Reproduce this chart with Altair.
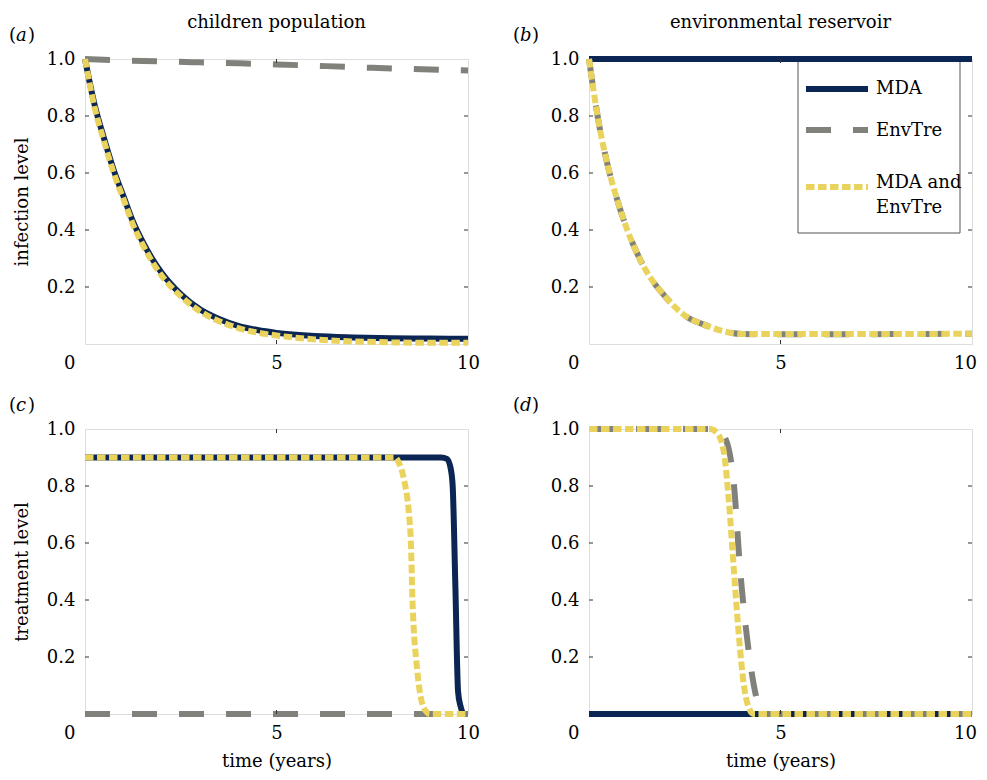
import altair as alt
import pandas as pd

FONT = "DejaVu Serif"
FS = 18
NAVY = "#0b2655"
GREY = "#81817c"
YELLOW = "#e9d35c"
W, H = 383, 285

series_names = ["MDA", "EnvTre", "MDA and EnvTre"]
panel_tags = ["a", "b", "c", "d"]
col_titles = ["children population", "environmental reservoir"]
row_titles = ["infection level", "treatment level"]
x_title = "time (years)"
x_tick_values = [0, 5, 10]
y_tick_values = [0.2, 0.4, 0.6, 0.8, 1.0]

# (a) children population, infection level
a_mda_t = [0, 0.25, 0.5, 0.75, 1.0, 1.25, 1.5, 1.75, 2.0, 2.5, 3.0, 3.5, 4.0, 4.5, 5.0, 6.0, 7.0, 8.0, 9.0, 10.0]
a_mda_v = [1.0, 0.84, 0.72, 0.61, 0.52, 0.43, 0.36, 0.30, 0.25, 0.175, 0.122, 0.088, 0.064, 0.049, 0.039, 0.028, 0.023, 0.020, 0.019, 0.018]
a_env_t = [0, 1.5, 2.8, 4.0, 5.0, 6.3, 7.5, 8.8, 10.0]
a_env_v = [1.0, 0.993, 0.989, 0.985, 0.981, 0.975, 0.969, 0.964, 0.960]
a_both_t = [0, 0.25, 0.5, 0.75, 1.0, 1.25, 1.5, 1.75, 2.0, 2.5, 3.0, 3.5, 4.0, 4.5, 5.0, 6.0, 7.0, 8.0, 9.0, 10.0]
a_both_v = [1.0, 0.83, 0.71, 0.60, 0.51, 0.42, 0.35, 0.29, 0.24, 0.168, 0.115, 0.080, 0.056, 0.040, 0.030, 0.016, 0.009, 0.006, 0.004, 0.004]

# (b) environmental reservoir, infection level
b_mda_t = [0, 10.0]
b_mda_v = [1.0, 1.0]
b_env_t = [0, 0.25, 0.5, 0.75, 1.0, 1.25, 1.5, 2.0, 2.5, 3.0, 3.5, 4.0, 5.0, 6.0, 8.0, 10.0]
b_env_v = [1.0, 0.78, 0.62, 0.50, 0.40, 0.32, 0.255, 0.165, 0.10, 0.068, 0.045, 0.035, 0.034, 0.034, 0.035, 0.036]
b_both_t = [0, 0.25, 0.5, 0.75, 1.0, 1.25, 1.5, 2.0, 2.5, 3.0, 3.5, 4.0, 5.0, 6.0, 8.0, 10.0]
b_both_v = [1.0, 0.78, 0.62, 0.50, 0.40, 0.32, 0.255, 0.165, 0.10, 0.068, 0.045, 0.035, 0.035, 0.035, 0.035, 0.036]

# (c) children population, treatment level
c_mda_t = [0, 5.0, 9.3, 9.45, 9.55, 9.6, 9.67, 9.74, 9.8, 9.9, 10.0]
c_mda_v = [0.9, 0.9, 0.9, 0.895, 0.86, 0.80, 0.45, 0.08, 0.03, 0.0, 0.0]
c_env_t = [0, 10.0]
c_env_v = [0.0, 0.0]
c_both_t = [0, 4.0, 8.1, 8.2, 8.3, 8.5, 8.55, 8.67, 8.78, 8.9, 9.0, 10.0]
c_both_v = [0.9, 0.9, 0.9, 0.88, 0.84, 0.63, 0.40, 0.16, 0.05, 0.01, 0.0, 0.0]

# (d) environmental reservoir, treatment level
d_mda_t = [0, 10.0]
d_mda_v = [0.0, 0.0]
d_env_t = [0, 2.0, 3.34, 3.55, 3.78, 3.95, 4.18, 4.35, 4.5, 4.6, 7.0, 10.0]
d_env_v = [1.0, 1.0, 1.0, 0.97, 0.81, 0.50, 0.21, 0.07, 0.01, 0.0, 0.0, 0.0]
d_both_t = [0, 2.0, 3.16, 3.35, 3.52, 3.65, 3.78, 3.91, 4.04, 4.15, 4.3, 7.0, 10.0]
d_both_v = [1.0, 1.0, 1.0, 0.985, 0.92, 0.75, 0.51, 0.28, 0.105, 0.03, 0.0, 0.0, 0.0]

raw = {
    "a": [(a_mda_t, a_mda_v), (a_env_t, a_env_v), (a_both_t, a_both_v)],
    "b": [(b_mda_t, b_mda_v), (b_env_t, b_env_v), (b_both_t, b_both_v)],
    "c": [(c_mda_t, c_mda_v), (c_env_t, c_env_v), (c_both_t, c_both_v)],
    "d": [(d_mda_t, d_mda_v), (d_env_t, d_env_v), (d_both_t, d_both_v)],
}
rows = []
for p, lst in raw.items():
    for s, (ts, vs) in zip(series_names, lst):
        for t, v in zip(ts, vs):
            rows.append({"panel": p, "series": s, "t": t, "v": v})
df = pd.DataFrame(rows)

styles = {
    "MDA": dict(color=NAVY, strokeWidth=6),
    "EnvTre": dict(color=GREY, strokeWidth=6, strokeDash=[25, 22]),
    "MDA and EnvTre": dict(color=YELLOW, strokeWidth=6, strokeDash=[8.5, 3.5]),
}

xs = alt.Scale(domain=[0, 10], nice=False, zero=False)
ys = alt.Scale(domain=[0, 1], nice=False, zero=False)


def make_axes(show_xtitle, ytitle, right_col):
    last_off = -7 if right_col else 0
    xa = dict(
        values=x_tick_values, ticks=False, tickSize=0, domain=False, grid=False,
        labelFont=FONT, labelFontSize=FS, labelColor="black", labelPadding=10,
        labelFlush=False, labelOverlap=False, labelBound=False,
        labelAlign={"condition": {"test": "datum.value === 0", "value": "right"}, "value": "center"},
        labelOffset={"condition": [{"test": "datum.value === 0", "value": -10},
                                   {"test": "datum.value === 10", "value": last_off}],
                     "value": 0},
    )
    if show_xtitle:
        xa.update(title=x_title, titleFont=FONT, titleFontSize=FS, titleFontWeight="normal",
                  titleColor="black", titleX=W / 2, titleY=47, titleBaseline="middle",
                  titleAlign="center", titleAnchor="middle")
    else:
        xa.update(title=None)
    ya = dict(
        values=y_tick_values, format=".1f", ticks=False, tickSize=0, domain=False, grid=False,
        labelFont=FONT, labelFontSize=FS, labelColor="black", labelPadding=10,
        labelFlush=False, labelOverlap=False, labelBound=False,
    )
    if ytitle:
        ya.update(title=ytitle, titleFont=FONT, titleFontSize=FS, titleFontWeight="normal",
                  titleColor="black", titleX=-63, titleY=H / 2, titleAngle=270,
                  titleBaseline="middle", titleAlign="center")
    else:
        ya.update(title=None)
    return alt.Axis(**xa), alt.Axis(**ya)


def text_layer(txt, x, y, **kw):
    return alt.Chart(pd.DataFrame({"label": [txt]})).mark_text(
        font=FONT, fontSize=FS, color="black", clip=False, **kw
    ).encode(text="label:N", x=alt.value(x), y=alt.value(y))


def panel(tag, col_title, ytitle, show_xtitle, right_col, legend=False):
    xa, ya = make_axes(show_xtitle, ytitle, right_col)
    X = alt.X("t:Q", scale=xs, axis=xa)
    Y = alt.Y("v:Q", scale=ys, axis=ya)
    layers = []
    if legend:
        layers.append(alt.Chart(pd.DataFrame({"k": [0]})).mark_rect(
            fill="white", stroke="#555555", strokeWidth=1).encode(
            x=alt.value(209), x2=alt.value(371), y=alt.value(2), y2=alt.value(174)))
        leg_y = [30, 71, 128]
        txt_y = [30, 72, 124]
        for s, ly, ty in zip(series_names, leg_y, txt_y):
            st = styles[s]
            layers.append(alt.Chart(pd.DataFrame({"k": [0]})).mark_rule(
                strokeCap="butt", **st).encode(
                x=alt.value(217), x2=alt.value(279), y=alt.value(ly)))
            lbl = s.replace("MDA and ", "MDA and\n")
            layers.append(alt.Chart(pd.DataFrame({"label": [lbl]})).mark_text(
                font=FONT, fontSize=FS, color="black", align="left", baseline="middle",
                lineBreak="\n", lineHeight=25).encode(
                text="label:N", x=alt.value(287), y=alt.value(ty)))
    d = df[df.panel == tag]
    for s in series_names:
        layers.append(alt.Chart(d[d.series == s]).mark_line(
            interpolate="monotone", strokeCap="butt", strokeJoin="round", clip=False,
            **styles[s]).encode(x=X, y=Y))
    # inward tick marks
    ytk = pd.DataFrame({"v": y_tick_values[:-1]})
    xtk = pd.DataFrame({"t": [5]})
    layers.append(alt.Chart(ytk).mark_rule(color="#333333", strokeWidth=1).encode(
        y=Y, x=alt.value(0), x2=alt.value(4)))
    layers.append(alt.Chart(ytk).mark_rule(color="#333333", strokeWidth=1).encode(
        y=Y, x=alt.value(W - 4), x2=alt.value(W)))
    layers.append(alt.Chart(xtk).mark_rule(color="#333333", strokeWidth=1).encode(
        x=X, y=alt.value(0), y2=alt.value(4)))
    layers.append(alt.Chart(xtk).mark_rule(color="#333333", strokeWidth=1).encode(
        x=X, y=alt.value(H - 4), y2=alt.value(H)))
    # panel label (a) etc.
    layers.append(text_layer("(", -76, -23, align="left", baseline="middle"))
    layers.append(text_layer(tag, -69, -23, align="left", baseline="middle", fontStyle="italic"))
    layers.append(text_layer(")", -57, -23, align="left", baseline="middle"))
    if col_title:
        layers.append(text_layer(col_title, W / 2, -36, align="center", baseline="middle"))
    return alt.layer(*layers).properties(width=W, height=H)


pa = panel("a", col_titles[0], row_titles[0], False, False)
pb = panel("b", col_titles[1], None, False, True, legend=True)
pc = panel("c", None, row_titles[1], True, False)
pd_ = panel("d", None, None, True, True)

chart = alt.concat(pa, pb, pc, pd_, columns=2, spacing={"row": 85, "column": 121},
                   bounds="flush").properties(
    padding={"left": 0, "top": 5, "right": 0, "bottom": 0}
).configure_view(stroke="#333333", strokeWidth=1).configure(background="white")

chart.save("out.html", embed_options={"renderer": "svg", "actions": False})
